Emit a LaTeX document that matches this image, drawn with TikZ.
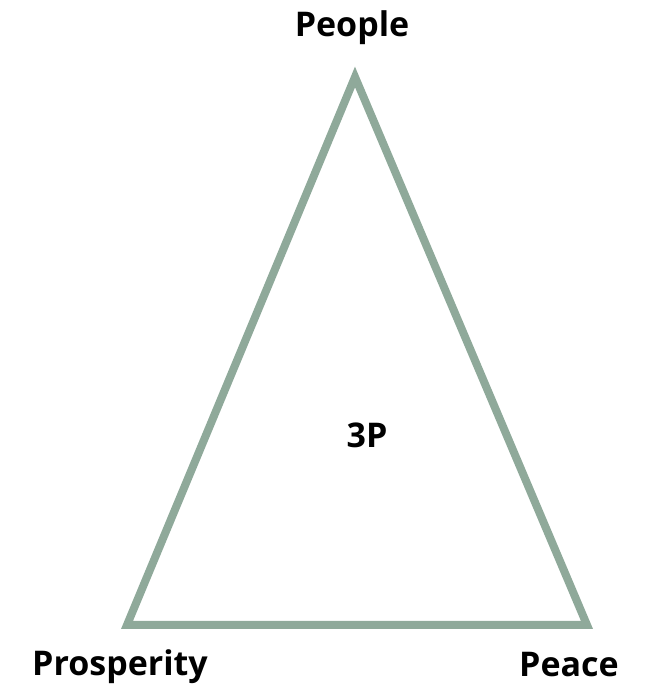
\documentclass[tikz,border=0pt]{standalone}
\usepackage{fontspec}
\setmainfont{Open Sans}
\definecolor{tri}{HTML}{8FA99A}
\begin{document}
\begin{tikzpicture}[x=1pt,y=1pt,
  lbl/.style={font=\fontsize{34}{40}\selectfont\bfseries, anchor=base, inner sep=0pt},
  side/.style={draw=tri, line width=8pt, line join=miter}]
\useasboundingbox (0,0) rectangle (646,687);
\coordinate (A) at (355,610);
\coordinate (B) at (127,62);
\coordinate (C) at (587,62);
\draw[side] (A) -- (B) -- (C) -- cycle;
\node[lbl] (people) at (352,650) {People};
\node[lbl] (center) at (367,239) {3P};
\node[lbl] (prosperity) at (120,11) {Prosperity};
\node[lbl] (peace) at (569,10) {Peace};
\end{tikzpicture}
\end{document}
